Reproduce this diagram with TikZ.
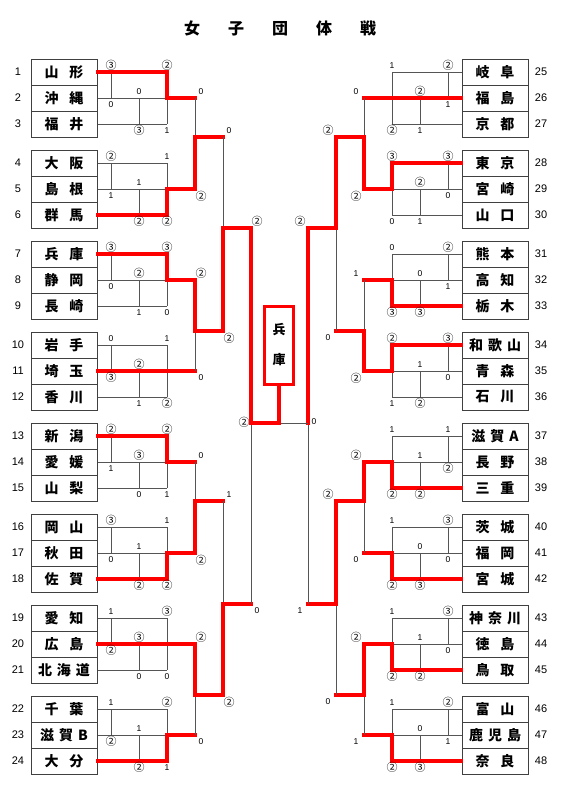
\documentclass[tikz,border=0pt]{standalone}
\usepackage{fontspec}
\setmainfont{Noto Sans CJK JP}
\newfontfamily\jp{Noto Sans CJK JP}
\newfontfamily\numfont{Liberation Sans}
\definecolor{lgray}{HTML}{555555}
\definecolor{bgray}{HTML}{404040}
\newcommand\twoch[2]{#1\hspace{11pt}#2}
\newcommand\thrch[3]{#1\hspace{5pt}#2\hspace{5pt}#3}
\newcommand\Cb{{\jp\fontsize{11}{11}\selectfont ②}}
\newcommand\Cc{{\jp\fontsize{11}{11}\selectfont ③}}
\tikzset{
  team/.style={draw=bgray, line width=1pt, minimum width=66pt, minimum height=26pt, inner sep=0pt,
    font=\jp\bfseries\fontsize{14}{14}\selectfont},
  num/.style={font=\numfont\fontsize{11}{11}\selectfont, inner sep=0pt},
  sc/.style={font=\numfont\fontsize{8.5}{9}\selectfont, inner sep=0pt},
  gl/.style={draw=lgray, line width=1pt},
  rl/.style={draw=red, line width=3.2pt, line cap=rect, line join=miter},
  champ/.style={draw=red, line width=3pt, minimum width=29pt, minimum height=78pt, inner sep=0pt,
    align=center, font=\jp\bfseries\fontsize{13}{30}\selectfont}
}
\newcommand\drawgroup{%
  \pgfmathsetmacro\T{59+91*\g}%
  \pgfmathsetmacro\ra{\T+13}%
  \pgfmathsetmacro\rb{\T+39}%
  \pgfmathsetmacro\rc{\T+65}%
  \pgfmathtruncatemacro\ka{\base+3*\g}%
  \pgfmathtruncatemacro\kb{\base+3*\g+1}%
  \pgfmathtruncatemacro\kc{\base+3*\g+2}%
  \node[team] (\side\g a) at (64,\ra) {\na};
  \node[team] (\side\g b) at (64,\rb) {\nb};
  \node[team] (\side\g c) at (64,\rc) {\nc};
  \node[num] (\side\g na) at (18,\ra) {\ka};
  \node[num] (\side\g nb) at (18,\rb) {\kb};
  \node[num] (\side\g nc) at (18,\rc) {\kc};
  \draw[gl] (\side\g a.\ed) -- (167,\ra);
  \draw[gl] (\side\g b.\ed) -- (195,\rb);
  \draw[gl] (\side\g c.\ed) -- (167,\rc);
  \draw[gl] (111,\ra) -- (111,\rb);
  \draw[gl] (139,\rb) -- (139,\rc);
  \draw[gl] (167,\ra) -- (167,\rc);
  \ifcase\w\or
    \draw[rl] (\side\g a.\ed) -- (167,\ra) -- (167,\rb) -- (195,\rb);
  \or
    \draw[rl] (\side\g b.\ed) -- (195,\rb);
  \or
    \draw[rl] (\side\g c.\ed) -- (167,\rc) -- (167,\rb) -- (195,\rb);
  \fi
  \node[sc] at (111,\ra-6.5) {\sA};
  \node[sc] at (111,\rb+6.5) {\sB};
  \node[sc] at (139,\rb-6.5) {\sC};
  \node[sc] at (139,\rc+6.5) {\sD};
  \node[sc] at (167,\ra-6.5) {\sE};
  \node[sc] at (167,\rc+6.5) {\sF};
}
% #1 x, #2 upper y, #3 lower y, #4 out y, #5 winner (1 upper, 2 lower), #6 upper label, #7 lower label, #8 next x
\newcommand\junction[8]{%
  \draw[gl] (#1,#2) -- (#1,#3);
  \ifnum#5=1
    \draw[rl] (#1,#2) -- (#1,#4) -- (#8,#4);
  \else
    \draw[rl] (#1,#3) -- (#1,#4) -- (#8,#4);
  \fi
  \node[sc] at (#1+\lo,#2-6.5) {#6};
  \node[sc] at (#1+\lo,#3+7) {#7};
}
\begin{document}
\begin{tikzpicture}[x=1pt,y=-1pt]
\useasboundingbox (0,0) rectangle (567,785);
\node (title) at (280,28) {\jp\bfseries\fontsize{16}{16}\selectfont 女\hspace{28pt}子\hspace{28pt}団\hspace{28pt}体\hspace{28pt}戦};

% ---------------- left half
\def\side{L}\def\ed{east}\def\base{1}\def\lo{6}
\foreach \g/\na/\nb/\nc/\w/\sA/\sB/\sC/\sD/\sE/\sF in {
 0/{\twoch{山}{形}}/{\twoch{沖}{縄}}/{\twoch{福}{井}}/1/\Cc/0/0/\Cc/\Cb/1,
 1/{\twoch{大}{阪}}/{\twoch{島}{根}}/{\twoch{群}{馬}}/3/\Cb/1/1/\Cb/1/\Cb,
 2/{\twoch{兵}{庫}}/{\twoch{静}{岡}}/{\twoch{長}{崎}}/1/\Cc/0/\Cb/1/\Cc/0,
 3/{\twoch{岩}{手}}/{\twoch{埼}{玉}}/{\twoch{香}{川}}/2/0/\Cc/\Cb/1/1/\Cb,
 4/{\twoch{新}{潟}}/{\twoch{愛}{媛}}/{\twoch{山}{梨}}/1/\Cb/1/\Cc/0/\Cb/1,
 5/{\twoch{岡}{山}}/{\twoch{秋}{田}}/{\twoch{佐}{賀}}/3/\Cc/0/1/\Cb/1/\Cb,
 6/{\twoch{愛}{知}}/{\twoch{広}{島}}/{\thrch{北}{海}{道}}/2/1/\Cb/\Cc/0/\Cc/0,
 7/{\twoch{千}{葉}}/{\thrch{滋}{賀}{B}}/{\twoch{大}{分}}/3/1/\Cb/1/\Cb/\Cb/1}
 {\drawgroup}
\junction{195}{98}{189}{137}{2}{0}{\Cb}{223}
\junction{195}{280}{371}{331}{1}{\Cb}{0}{223}
\junction{195}{462}{553}{501}{2}{0}{\Cb}{223}
\junction{195}{644}{735}{695}{1}{\Cb}{0}{223}
\junction{223}{137}{331}{228}{2}{0}{\Cb}{251}
\junction{223}{501}{695}{604}{2}{1}{\Cb}{251}
\junction{251}{228}{604}{423}{1}{\Cb}{0}{279}

% ---------------- right half (mirrored positions)
\begin{scope}[xshift=559pt, xscale=-1]
\def\side{R}\def\ed{west}\def\base{25}\def\lo{8}
\foreach \g/\na/\nb/\nc/\w/\sA/\sB/\sC/\sD/\sE/\sF in {
 0/{\twoch{岐}{阜}}/{\twoch{福}{島}}/{\twoch{京}{都}}/2/\Cb/1/\Cb/1/1/\Cb,
 1/{\twoch{東}{京}}/{\twoch{宮}{崎}}/{\twoch{山}{口}}/1/\Cc/0/\Cb/1/\Cc/0,
 2/{\twoch{熊}{本}}/{\twoch{高}{知}}/{\twoch{栃}{木}}/3/\Cb/1/0/\Cc/0/\Cc,
 3/{\thrch{和}{歌}{山}}/{\twoch{青}{森}}/{\twoch{石}{川}}/1/\Cc/0/1/\Cb/\Cb/1,
 4/{\thrch{滋}{賀}{A}}/{\twoch{長}{野}}/{\twoch{三}{重}}/3/1/\Cb/1/\Cb/1/\Cb,
 5/{\twoch{茨}{城}}/{\twoch{福}{岡}}/{\twoch{宮}{城}}/3/\Cc/0/0/\Cc/1/\Cb,
 6/{\thrch{神}{奈}{川}}/{\twoch{徳}{島}}/{\twoch{鳥}{取}}/3/\Cc/0/1/\Cb/1/\Cb,
 7/{\twoch{富}{山}}/{\thrch{鹿}{児}{島}}/{\twoch{奈}{良}}/3/\Cb/1/0/\Cc/1/\Cb}
 {\drawgroup}
\junction{195}{98}{189}{137}{2}{0}{\Cb}{223}
\junction{195}{280}{371}{331}{2}{1}{\Cb}{223}
\junction{195}{462}{553}{501}{1}{\Cb}{0}{223}
\junction{195}{644}{735}{695}{1}{\Cb}{1}{223}
\junction{223}{137}{331}{228}{1}{\Cb}{0}{251}
\junction{223}{501}{695}{604}{1}{\Cb}{0}{251}
\junction{251}{228}{604}{423}{1}{\Cb}{1}{251}
\end{scope}

% ---------------- final
\node[champ] (champ) at (279,345) {兵\\庫};
\coordinate (fl) at (251,423);
\coordinate (fm) at (279,423);
\coordinate (fr) at (308,423);
\draw[gl] (fm) -- (fr);
\draw[rl] (fm) -- (champ.south);
\node[sc] (finL) at (244,422) {\Cb};
\node[sc] (finR) at (314,422) {0};
\end{tikzpicture}
\end{document}
